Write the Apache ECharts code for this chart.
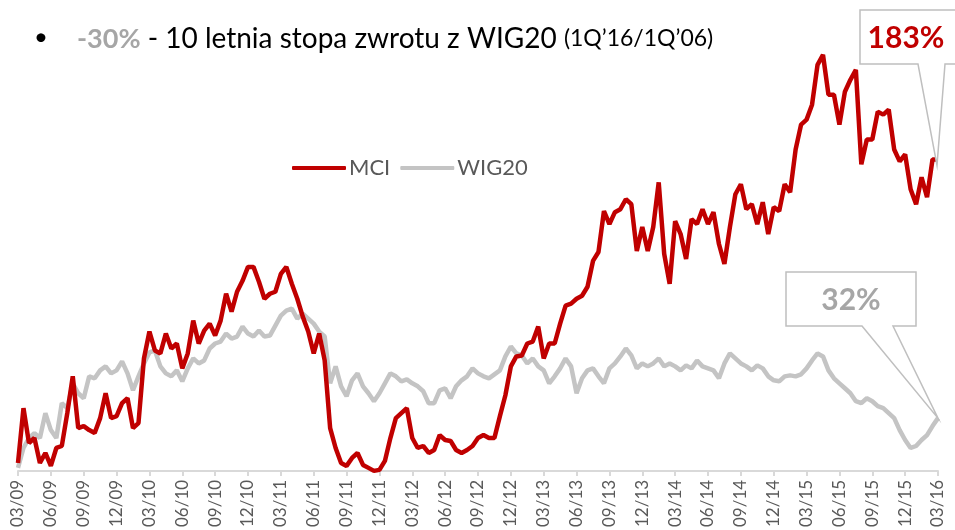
<!DOCTYPE html>
<html>
<head>
<meta charset="utf-8">
<script src="https://cdn.jsdelivr.net/npm/echarts@6/dist/echarts.min.js"></script>
<style>
  html, body { margin: 0; padding: 0; background: #fff; }
  #chart { width: 955px; height: 530px; }
</style>
</head>
<body>
<div id="chart"></div>
<script>
// half-monthly points, 03/09 .. 03/16
var dates = [];
for (var k = 0; k <= 84; k++) {
  var mm = (2 + k) % 12 + 1;
  var yy = 2009 + Math.floor((2 + k) / 12);
  var m2 = (mm < 10 ? '0' : '') + mm;
  dates.push(yy + '-' + m2 + '-01');
  if (k < 84) dates.push(yy + '-' + m2 + '-16');
}

// values (height above the axis line)
var mci = [
  8, 63, 28, 33, 8, 18, 5, 23, 25, 58, 95, 43, 45, 41, 38, 53, 78, 53, 55, 68,
  73, 43, 48, 113, 140, 121, 118, 138, 123, 128, 103, 118, 151, 128, 141, 148, 136, 151, 178, 160,
  180, 191, 205, 205, 190, 173, 178, 180, 198, 205, 188, 173, 155, 140, 118, 138, 111, 43, 23, 8,
  5, 13, 18, 6, 3, 0, 1, 10, 33, 53, 58, 63, 33, 23, 25, 18, 21, 36, 31, 30,
  21, 18, 21, 25, 33, 36, 33, 33, 55, 76, 105, 115, 116, 128, 130, 145, 113, 128, 128, 148,
  166, 168, 173, 176, 185, 211, 220, 261, 248, 260, 263, 273, 268, 221, 245, 221, 245, 290, 218, 188,
  251, 238, 213, 253, 248, 263, 248, 260, 228, 208, 245, 278, 288, 263, 268, 248, 270, 238, 265, 261,
  288, 280, 323, 348, 353, 368, 408, 418, 378, 378, 348, 381, 393, 403, 308, 333, 333, 361, 358, 363,
  323, 311, 318, 283, 268, 295, 275, 313, 313
];
var wig20 = [
  3, 23, 33, 38, 33, 58, 41, 33, 68, 63, 88, 78, 73, 95, 93, 101, 105, 98, 101, 110,
  98, 81, 95, 108, 119, 121, 105, 98, 95, 101, 90, 103, 113, 108, 111, 123, 128, 130, 138, 133,
  135, 145, 138, 135, 141, 135, 136, 146, 156, 161, 163, 153, 158, 153, 148, 140, 135, 88, 105, 85,
  75, 91, 98, 85, 78, 70, 78, 88, 98, 95, 90, 92, 88, 85, 80, 68, 68, 81, 83, 73,
  85, 91, 95, 103, 98, 95, 93, 97, 101, 115, 125, 118, 116, 108, 113, 105, 101, 88, 95, 103,
  113, 105, 78, 93, 101, 103, 95, 88, 103, 108, 115, 123, 116, 103, 108, 105, 108, 113, 105, 108,
  105, 101, 106, 103, 111, 105, 103, 101, 93, 108, 118, 113, 108, 105, 101, 106, 103, 95, 91, 90,
  95, 96, 95, 97, 103, 111, 118, 115, 101, 93, 88, 83, 78, 70, 68, 73, 70, 65, 63, 58,
  53, 41, 31, 23, 25, 31, 36, 45, 53
];
var mciLabel = '183%';
var wigLabel = '32%';

var chart = echarts.init(document.getElementById('chart'));

function isQuarter(idx, val) {
  var p = val.split('-');
  return p[2] === '01' && (+p[1]) % 3 === 0;
}

var option = {
  animation: false,
  textStyle: { fontFamily: 'Lato, "Open Sans", sans-serif' },
  title: {
    left: 72,
    top: 20,
    text: '{g|-30%}{t| - 10 letnia stopa zwrotu z WIG20 }{s|(1Q\u201916/1Q\u201906)}',
    textStyle: {
      fontWeight: 'normal',
      rich: {
        g: { fontSize: 27, fontWeight: 'bold', color: '#a6a6a6', fontFamily: 'Lato' },
        t: { fontSize: 28, fontWeight: 'normal', color: '#000', fontFamily: 'Lato' },
        s: { fontSize: 23, fontWeight: 'normal', color: '#000', fontFamily: 'Lato' }
      }
    }
  },
  legend: {
    left: 287,
    top: 152,
    data: ['MCI', 'WIG20'],
    icon: 'roundRect',
    itemWidth: 54,
    itemHeight: 4,
    itemGap: 10,
    textStyle: { fontSize: 22, color: '#595959', fontFamily: 'Lato', padding: [0, 0, 0, -2] }
  },
  grid: { left: 18, right: 17, top: 40, bottom: 57 },
  xAxis: {
    type: 'category',
    data: dates,
    boundaryGap: false,
    axisLine: { lineStyle: { color: '#d9d9d9', width: 2 } },
    axisTick: { interval: isQuarter, length: 5, lineStyle: { color: '#d9d9d9', width: 2 } },
    axisLabel: {
      interval: isQuarter,
      rotate: 90,
      margin: 9,
      fontSize: 17,
      color: '#595959',
      fontFamily: 'Lato',
      formatter: function (v) { var p = v.split('-'); return p[1] + '/' + p[0].slice(2); }
    }
  },
  yAxis: { type: 'value', min: 0, max: 433, show: false },
  series: [
    {
      name: 'MCI', type: 'line', data: mci, z: 3, showSymbol: false,
      lineStyle: { color: '#c00000', width: 4.5 }, itemStyle: { color: '#c00000' }
    },
    {
      name: 'WIG20', type: 'line', data: wig20, z: 2, showSymbol: false,
      lineStyle: { color: '#c4c4c4', width: 4.5 }, itemStyle: { color: '#c4c4c4' }
    }
  ]
};
chart.setOption(option);

// callouts pointing at the last value of each line
var last = dates.length - 1;
var tipM = chart.convertToPixel({ seriesIndex: 0 }, [last, mci[last]]);
var tipW = chart.convertToPixel({ seriesIndex: 1 }, [last, wig20[last]]);

chart.setOption({
  graphic: [
    {
      type: 'text', left: 34, top: 25,
      style: { text: '\u2022', fontSize: 24, fill: '#000', fontFamily: 'Lato' }
    },
    {
      type: 'polygon', z: 10,
      shape: { points: [[860, 10], [962, 10], [962, 64], [945, 64], [tipM[0] - 1, tipM[1] + 6], [918, 64], [860, 64]] },
      style: { fill: '#fff', stroke: '#bfbfbf', lineWidth: 1.5 }
    },
    {
      type: 'text', z: 11, x: 906, y: 38,
      style: { text: mciLabel, fontSize: 30, fontWeight: 'bold', fill: '#c00000', fontFamily: 'Lato', align: 'center', verticalAlign: 'middle' }
    },
    {
      type: 'polygon', z: 10,
      shape: { points: [[786, 272], [916, 272], [916, 326], [893, 326], [tipW[0], tipW[1]], [862, 326], [786, 326]] },
      style: { fill: '#fff', stroke: '#bfbfbf', lineWidth: 1.5 }
    },
    {
      type: 'text', z: 11, x: 851, y: 300,
      style: { text: wigLabel, fontSize: 30, fontWeight: 'bold', fill: '#a6a6a6', fontFamily: 'Lato', align: 'center', verticalAlign: 'middle' }
    }
  ]
});
</script>
</body>
</html>
